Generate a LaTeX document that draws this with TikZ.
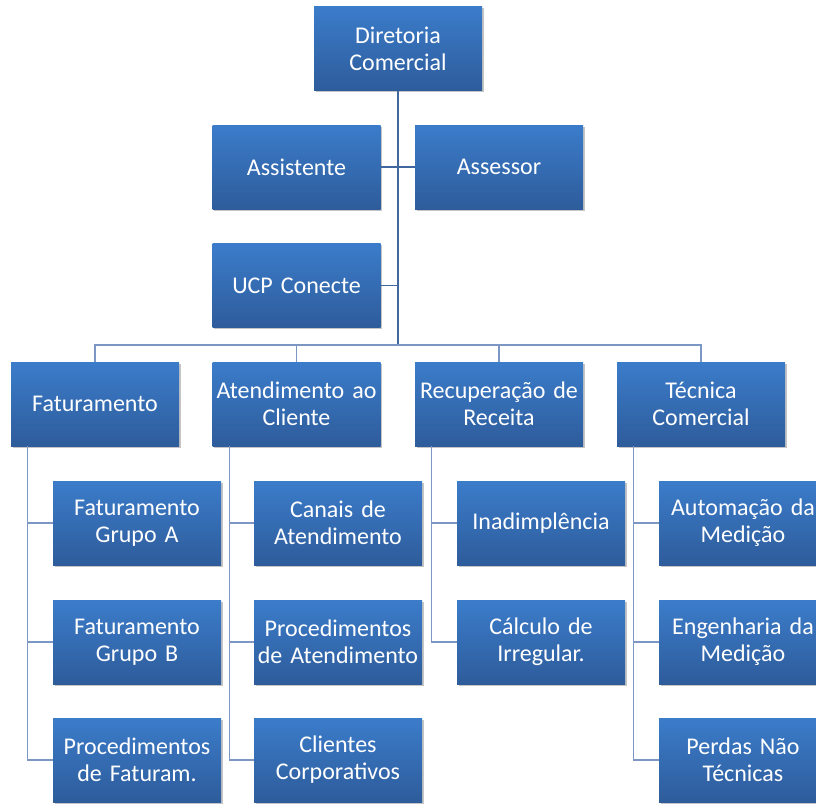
\documentclass[tikz,border=0pt]{standalone}
\usepackage{fontspec}
\setmainfont{Carlito}
\usetikzlibrary{positioning,shadows}
\definecolor{boxtop}{HTML}{3B7CCA}
\definecolor{boxbot}{HTML}{2E5C9B}
\definecolor{mainline}{HTML}{41679F}
\definecolor{subline}{HTML}{7C97C4}

\begin{document}
\begin{tikzpicture}[x=1pt,y=-1pt,
			unit/.style={rectangle,minimum width=168pt,minimum height=84pt,inner sep=1pt,
				text width=166pt,align=center,text=white,
				top color=boxtop,bottom color=boxbot,
				drop shadow={shadow xshift=1.5pt,shadow yshift=-1.5pt,fill=black!45,opacity=.5},
				font=\fontsize{24}{27}\selectfont},
			trunk/.style={draw=mainline,line width=1.8pt},
			branch/.style={draw=subline,line width=1.2pt}]
			\useasboundingbox (0,0) rectangle (816,803);
			\clip (0,0) rectangle (816,803);
			% top
			\node (dir) [unit] at (398,48.5) {Diretoria\\Comercial};
			\node (assist) [unit] at (296.5,167) {Assistente};
			\node (assess) [unit] at (499,167) {Assessor};
			\node (ucp) [unit] at (296.5,285.5) {UCP Conecte};
			\coordinate (bus) at (398,345);
			\draw [trunk] (assist.east) -- (assess.west);
			\draw [trunk] (ucp.east) -- (ucp.east -| dir.south);
			% departments
			\node (fat) [unit] at (95,404) {Faturamento};
			\node (atd) [unit] at (296.5,404) {Atendimento ao\\Cliente};
			\node (rec) [unit] at (499,404) {Recuperação de\\Receita};
			\node (tec) [unit] at (701,404) {Técnica\\Comercial};
			\draw [trunk] (dir.south) -- (bus);
			\draw [branch] (fat.north) |- (bus) -| (tec.north);
			\draw [branch] (atd.north) -- (atd.north |- bus);
			\draw [branch] (rec.north) -- (rec.north |- bus);
			% Faturamento
			\node (fatA) [unit] at (137,523) {Faturamento\\Grupo A};
			\node (fatB) [unit] at (137,642) {Faturamento\\Grupo B};
			\node (fatP) [unit] at (137,760) {Procedimentos\\de Faturam.};
			% Atendimento
			\node (atdC) [unit] at (338,523) {Canais de\\Atendimento};
			\node (atdP) [unit] at (338,642) {Procedimentos\\de Atendimento};
			\node (atdK) [unit] at (338,760) {Clientes\\Corporativos};
			% Recuperacao
			\node (recI) [unit] at (541,523) {Inadimplência};
			\node (recC) [unit] at (541,642) {Cálculo de\\Irregular.};
			% Tecnica
			\node (tecA) [unit] at (743,523) {Automação da\\Medição};
			\node (tecE) [unit] at (743,642) {Engenharia da\\Medição};
			\node (tecP) [unit] at (743,760) {Perdas Não\\Técnicas};
			\foreach \p/\kids in {fat/{fatA,fatB,fatP},atd/{atdC,atdP,atdK},rec/{recI,recC},tec/{tecA,tecE,tecP}} {
				\foreach \k in \kids {
					\draw [branch] ([xshift=17pt]\p.south west) |- (\k.west);
				}
			}
		\end{tikzpicture}
\end{document}
